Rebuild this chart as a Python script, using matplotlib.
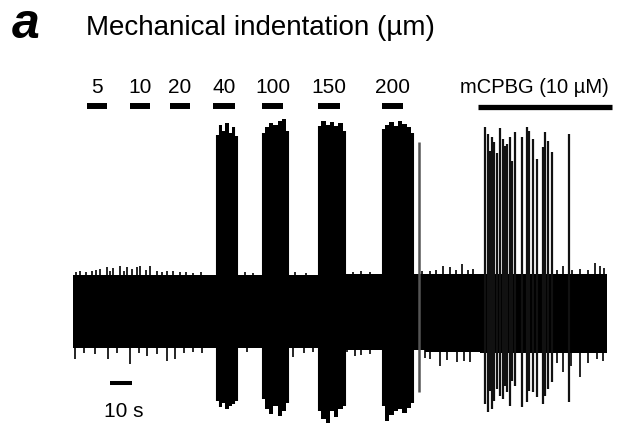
import matplotlib
matplotlib.use("Agg")
import matplotlib.pyplot as plt
from matplotlib import font_manager

# stimulus protocol (time in s)
stim_labels = ["5", "10", "20", "40", "100", "150", "200"]
stim_start = [6.4, 25.9, 44.1, 63.6, 85.9, 111.4, 140.5]
stim_end = [15.5, 35.0, 53.2, 73.6, 95.5, 121.4, 150.0]
drug_label = "mCPBG (10 µM)"
drug_start, drug_end = 184.1, 245.0

# recording: baseline noise band (arbitrary units), read per stretch
band_t = [0.0, 60.0, 100.0, 124.0, 160.0, 185.0, 242.5]
band_top = [36, 36, 36, 37, 37, 37, 37]
band_bottom = [-37, -37, -37, -39, -41, -42, -42]

# noise peaks sticking out of the band
peak_up_t = [1.5, 3.2, 6.0, 8.5, 10.4, 12.3, 15.3, 17.0, 18.3, 21.4, 23.0, 24.4, 26.7,
             29.0, 30.5, 33.0, 35.0, 38.0, 40.5, 42.6, 45.6, 48.6, 51.5, 54.7, 58.0,
             78.0, 82.0, 101.0, 106.0, 127.4, 131.0, 135.0, 158.5, 162.3, 165.0,
             168.3, 171.4, 174.0, 176.7, 179.5, 182.0, 220.0, 222.9, 227.0, 230.5,
             234.0, 237.3, 239.5, 241.5]
peak_up_v = [39, 40, 39, 40, 41, 42, 44, 40, 43, 45, 40, 44, 42,
             44, 45, 41, 45, 40, 39, 40, 40, 39, 39, 38, 39,
             39, 38, 39, 38, 39, 40, 39, 40, 40, 41,
             45, 44, 41, 47, 41, 42, 41, 45, 41, 42,
             41, 48, 45, 43]
peak_dn_t = [0.9, 5.0, 10.0, 16.0, 20.0, 25.9, 30.0, 33.5, 38.0, 42.6, 46.4, 50.5,
             54.7, 58.5, 79.0, 100.1, 105.0, 109.2, 124.4, 128.0, 131.0, 135.0,
             160.0, 162.3, 166.8, 170.0, 174.4, 177.5, 180.5, 220.0, 222.9, 226.5,
             230.5, 234.0, 238.0, 241.0]
peak_dn_v = [-48, -42, -43, -48, -42, -53, -42, -45, -43, -50, -48, -42,
             -41, -42, -41, -46, -42, -41, -41, -45, -44, -43,
             -47, -48, -55, -49, -51, -50, -51, -52, -61, -55,
             -66, -52, -48, -50]

# evoked bursts: envelope read at even steps across each burst
bursts = [
    (65.5, 74.5, [176, 186, 180, 188, 178, 184, 175], [-90, -96, -92, -98, -95, -93, -90]),
    (86.4, 97.7, [178, 184, 188, 186, 190, 192, 180], [-88, -98, -103, -95, -105, -100, -92]),
    (111.8, 123.6, [185, 190, 186, 189, 185, 188, 180], [-100, -108, -112, -100, -106, -98, -95]),
    (140.9, 154.5, [182, 186, 189, 185, 190, 187, 184, 178], [-95, -110, -104, -100, -98, -102, -97, -92]),
]

# single units
lone_t, lone_top, lone_bot = 157.3, 169, -81
spike_t = [187.3, 188.8, 189.5, 190.3, 191.4, 192.5, 194.1, 195.3, 196.2, 197.1, 198.6,
           199.5, 200.9, 203.9, 206.2, 207.4, 209.2, 210.8, 213.5, 214.5, 216.0,
           217.6, 225.6]
spike_top = [184, 177, 160, 174, 169, 158, 183, 172, 165, 167, 174,
             150, 179, 174, 184, 180, 172, 152, 164, 179, 170,
             159, 177]
spike_bot = [-93, -101, -80, -98, -90, -78, -85, -88, -75, -81, -95,
             -70, -75, -96, -91, -80, -81, -86, -93, -85, -78,
             -71, -91]

names = {f.name for f in font_manager.fontManager.ttflist}
if "Liberation Sans Narrow" in names:
    label_font, label_size = "Liberation Sans Narrow", 16
else:
    label_font, label_size = "Liberation Sans", 15

fig = plt.figure(figsize=(6.42, 4.27), dpi=100)
ax = fig.add_axes([0, 0, 1, 1])
ax.set_xlim(-33.2, 258.6)
ax.set_ylim(-115, 312)
ax.axis("off")

ax.fill_between(band_t, band_bottom, band_top, step="post", color="black", lw=0)
ax.vlines(peak_up_t, 0, peak_up_v, color="black", lw=1.2)
ax.vlines(peak_dn_t, peak_dn_v, 0, color="black", lw=1.2)

for t0, t1, up, low in bursts:
    n = len(up)
    ts = [t0 + (t1 - t0) * i / (n - 1) for i in range(n)]
    ax.fill_between(ts, low, up, step="mid", color="black", lw=0)
    ax.vlines(ts, low, up, color="black", lw=1.5)

ax.vlines(lone_t, lone_bot, lone_top, color="#555555", lw=1.8)
ax.vlines(spike_t, spike_bot, spike_top, color="#111111", lw=1.6)

# stimulus bars and labels
for lab, s, e in zip(stim_labels, stim_start, stim_end):
    ax.hlines(205.5, s, e, color="black", lw=4.3)
    ax.text((s + e) / 2, 219, lab, ha="center", va="baseline",
            fontsize=label_size, family=label_font)
ax.hlines(204.5, drug_start, drug_end, color="black", lw=3.8)
ax.text(drug_start - 8, 219, drug_label, ha="left", va="baseline",
        fontsize=label_size - 0.5, family=label_font)

# scale bar
ax.hlines(-72, 16.8, 26.8, color="black", lw=2.9)
ax.text(22.9, -105, "10 s", ha="center", va="baseline", fontsize=15,
        family="Liberation Sans")

fig.text(12 / 642, 1 - 38 / 427, "a", fontsize=36, fontweight="bold",
         fontstyle="italic", family="Liberation Sans", va="baseline")
fig.text(86 / 642, 1 - 35 / 427, "Mechanical indentation (µm)", fontsize=20,
         family="Liberation Sans", va="baseline")

fig.savefig("out.png", dpi=100)
